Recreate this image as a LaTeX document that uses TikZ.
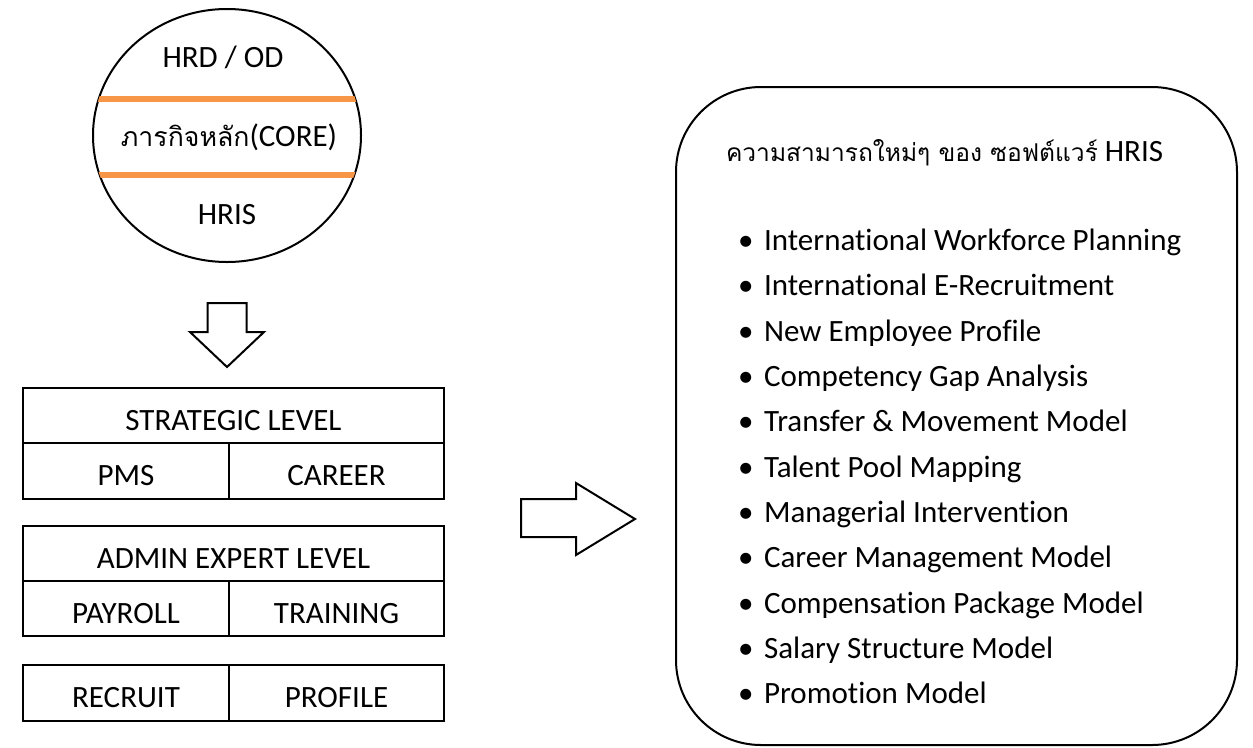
\documentclass[tikz,border=0pt]{standalone}
\usepackage{fontspec}
\setmainfont{Carlito}[Ligatures=NoCommon]
\newfontfamily\thaifont[Script=Thai,Scale=0.86]{Loma}
\usetikzlibrary{shapes.geometric,positioning}

\definecolor{accent}{HTML}{F79646}

\begin{document}
\begin{tikzpicture}[x=0.75pt, y=-0.75pt, line width=1.5pt,
        every node/.style={font=\fontsize{23.25}{28}\selectfont},
        cell/.style={rectangle, draw=black, line width=1.5pt, minimum height=41.25pt, inner sep=0pt, outer sep=0pt,
        text height=22pt, text depth=0pt, anchor=north west},
        band/.style={draw=accent, line width=4.5pt},
        fatarrow/.style={draw=black, line width=1.5pt, fill=white, line join=miter},]
        \useasboundingbox (0,0) rectangle (1253,747);

        % core circle
        \node (core) [ellipse, draw, minimum width=201pt, minimum height=189.75pt, inner sep=0pt, outer sep=0pt] at (227,135.5) {};
        \begin{scope}
            \clip (227,135.5) ellipse [x radius=134, y radius=126.5];
            \draw [band] (80,98.7) -- (380,98.7);
            \draw [band] (80,175) -- (380,175);
        \end{scope}
        \node (hrd) at (223,57) {HRD / OD};
        \node (mission) at (229,137) {{\thaifont ภารกิจหลัก}(CORE)};
        \node (hris) at (227,215) {HRIS};

        \draw [fatarrow] (207.7,303) -- (246.7,303) -- (246.7,332) -- (264,332) -- (227,367) -- (190,332) -- (207.7,332) -- cycle;

        % levels
        \node (strategic) [cell, minimum width=315.75pt] at (23,388) {STRATEGIC LEVEL};
        \node (pms) [cell, minimum width=154.5pt, minimum height=42pt] at (strategic.south west) {PMS};
        \node (career) [cell, minimum width=161.25pt, minimum height=42pt] at (pms.north east) {CAREER};

        \node (admin) [cell, minimum width=315.75pt] at (23,526) {ADMIN EXPERT LEVEL};
        \node (payroll) [cell, minimum width=154.5pt] at (admin.south west) {PAYROLL};
        \node (training) [cell, minimum width=161.25pt] at (payroll.north east) {TRAINING};

        \node (recruit) [cell, minimum width=154.5pt, minimum height=42pt] at (23,665) {RECRUIT};
        \node (profile) [cell, minimum width=161.25pt, minimum height=42pt] at (recruit.north east) {PROFILE};

        \draw [fatarrow] (521,499) -- (576,499) -- (576,483) -- (635,519) -- (576,555) -- (576,537) -- (521,537) -- cycle;

        % new features
        \node (features) [draw, rounded corners=63.75pt, minimum width=420.75pt, minimum height=493.5pt, outer sep=0pt, anchor=north west] at (676,87) {};
        \node (title) [anchor=west, inner sep=0pt] at (725,153) {{\thaifont\fontsize{21.4}{26}\selectfont ความสามารถใหม่ๆ ของ ซอฟต์แวร์} HRIS};
        \node (list) [anchor=north west, align=left, inner sep=0pt, font=\fontsize{23.25}{34}\selectfont] at (737,228) {
            \textbullet\hspace{8pt}International Workforce Planning \\
            \textbullet\hspace{8pt}International E-Recruitment \\
            \textbullet\hspace{8pt}New Employee Profile \\
            \textbullet\hspace{8pt}Competency Gap Analysis \\
            \textbullet\hspace{8pt}Transfer \& Movement Model \\
            \textbullet\hspace{8pt}Talent Pool Mapping \\
            \textbullet\hspace{8pt}Managerial Intervention \\
            \textbullet\hspace{8pt}Career Management Model \\
            \textbullet\hspace{8pt}Compensation Package Model \\
            \textbullet\hspace{8pt}Salary Structure Model \\
            \textbullet\hspace{8pt}Promotion Model
        };
    \end{tikzpicture}
\end{document}
